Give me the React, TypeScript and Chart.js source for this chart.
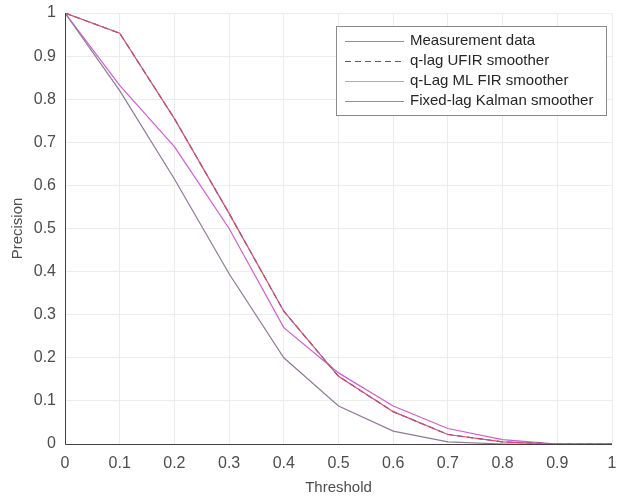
import React, { useEffect, useRef } from "react";
import { Chart, registerables } from "chart.js";

Chart.register(...registerables);

const thresholds = [0, 0.1, 0.2, 0.3, 0.4, 0.5, 0.6, 0.7, 0.8, 0.9, 1];
const measurement = [1, 0.82, 0.615, 0.395, 0.2, 0.088, 0.03, 0.005, 0, 0, 0];
const ufir = [1, 0.953, 0.755, 0.535, 0.308, 0.157, 0.075, 0.022, 0.005, 0, 0];
const mlfir = [1, 0.953, 0.755, 0.535, 0.308, 0.157, 0.075, 0.022, 0.005, 0, 0];
const kalman = [1, 0.832, 0.69, 0.5, 0.27, 0.165, 0.088, 0.036, 0.01, 0, 0];
const seriesNames = [
  "Measurement data",
  "q-lag UFIR smoother",
  "q-Lag ML FIR smoother",
  "Fixed-lag Kalman smoother",
];
const xTicks = [0, 0.1, 0.2, 0.3, 0.4, 0.5, 0.6, 0.7, 0.8, 0.9, 1];
const yTicks = [0, 0.1, 0.2, 0.3, 0.4, 0.5, 0.6, 0.7, 0.8, 0.9, 1];

const colors = ["#8f7a96", "#3a3aa8", "#d2506e", "#d35ccf"];
const legendColors = ["#9a8c9e", "#5a5a90", "#e09a90", "#c070c0"];
const dashes: number[][] = [[], [6, 4], [], []];
const FONT = "'Liberation Sans', Arial, sans-serif";

const legendPlugin = {
  id: "matlabLegend",
  afterDraw(chart: any) {
    const ctx = chart.ctx;
    const x0 = 336, y0 = 26, w = 270, h = 89;
    ctx.save();
    ctx.fillStyle = "#ffffff";
    ctx.fillRect(x0, y0, w, h);
    ctx.strokeStyle = "#8a8a8a";
    ctx.lineWidth = 1;
    ctx.setLineDash([]);
    ctx.strokeRect(x0 + 0.5, y0 + 0.5, w, h);
    ctx.font = `15px ${FONT}`;
    ctx.textBaseline = "middle";
    ctx.textAlign = "left";
    seriesNames.forEach((name, i) => {
      const y = y0 + 15 + i * 20;
      ctx.strokeStyle = legendColors[i];
      ctx.lineWidth = 1.2;
      ctx.setLineDash(dashes[i]);
      ctx.beginPath();
      ctx.moveTo(x0 + 9, y + 0.5);
      ctx.lineTo(x0 + 68, y + 0.5);
      ctx.stroke();
      ctx.setLineDash([]);
      ctx.fillStyle = "#262626";
      ctx.fillText(name, x0 + 74, y);
    });
    ctx.restore();
  },
};

const boxPlugin = {
  id: "axisBox",
  afterDatasetsDraw(chart: any) {
    const { ctx, chartArea } = chart;
    ctx.save();
    ctx.strokeStyle = "#404040";
    ctx.lineWidth = 1;
    ctx.beginPath();
    ctx.moveTo(Math.round(chartArea.left) + 0.5, chartArea.top);
    ctx.lineTo(Math.round(chartArea.left) + 0.5, Math.round(chartArea.bottom) + 0.5);
    ctx.lineTo(chartArea.right, Math.round(chartArea.bottom) + 0.5);
    ctx.stroke();
    ctx.restore();
  },
};

export default function App() {
  const ref = useRef<HTMLCanvasElement | null>(null);
  useEffect(() => {
    if (!ref.current) return;
    const data = [measurement, ufir, mlfir, kalman];
    const order = [0, 2, 1, 3];
    const chart = new Chart(ref.current, {
      type: "line",
      data: {
        datasets: order.map((i) => ({
          label: seriesNames[i],
          data: thresholds.map((t, k) => ({ x: t, y: data[i][k] })),
          borderColor: colors[i],
          borderWidth: 1.2,
          borderDash: dashes[i],
          pointRadius: 0,
          tension: 0,
          fill: false,
        })),
      },
      options: {
        animation: false,
        responsive: false,
        layout: { padding: { top: 13, right: 5, left: 0, bottom: 0 } },
        plugins: { legend: { display: false }, tooltip: { enabled: false } },
        scales: {
          x: {
            type: "linear",
            min: 0,
            max: 1,
            afterBuildTicks: (s: any) => {
              s.ticks = xTicks.map((v) => ({ value: v }));
            },
            afterFit: (s: any) => {
              s.height = 53;
              s.paddingLeft = 0;
              s.paddingRight = 0;
            },
            grid: { color: "#ececec", tickLength: 0, drawTicks: false },
            border: { display: false },
            ticks: {
              color: "#4d4d4d",
              font: { family: FONT, size: 16 },
              padding: 10,
              maxRotation: 0,
              callback: (v: any) => String(Math.round(v * 10) / 10),
            },
            title: {
              display: true,
              text: "Threshold",
              color: "#4d4d4d",
              font: { family: FONT, size: 15 },
              padding: { top: 6, bottom: 0 },
            },
          },
          y: {
            type: "linear",
            min: 0,
            max: 1,
            afterBuildTicks: (s: any) => {
              s.ticks = yTicks.map((v) => ({ value: v }));
            },
            afterFit: (s: any) => {
              s.width = 65;
              s.paddingTop = 0;
              s.paddingBottom = 0;
            },
            grid: { color: "#ececec", tickLength: 0, drawTicks: false },
            border: { display: false },
            ticks: {
              color: "#4d4d4d",
              font: { family: FONT, size: 16 },
              padding: 9,
              callback: (v: any) => String(Math.round(v * 10) / 10),
            },
            title: {
              display: true,
              text: "Precision",
              color: "#4d4d4d",
              font: { family: FONT, size: 15 },
              padding: { top: 9, bottom: 4 },
            },
          },
        },
      },
      plugins: [boxPlugin, legendPlugin],
    });
    return () => chart.destroy();
  }, []);
  return (
    <div style={{ position: "fixed", left: 0, top: 0, width: 617, height: 497, background: "#fff" }}>
      <canvas ref={ref} width={617} height={497} style={{ width: 617, height: 497 }} />
    </div>
  );
}
